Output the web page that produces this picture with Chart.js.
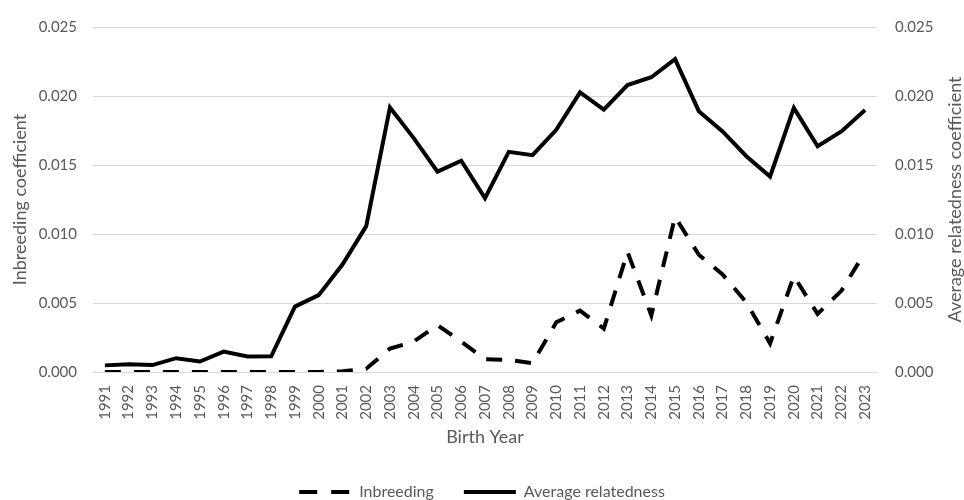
<!DOCTYPE html>
<html><head><meta charset="utf-8">
<script src="https://cdn.jsdelivr.net/npm/chart.js@4/dist/chart.umd.min.js"></script>
<style>html,body{margin:0;padding:0;background:#fff}</style>
</head><body>
<canvas id="c" width="964" height="500" style="display:block;width:964px;height:500px"></canvas>
<script>
const years = ['1991','1992','1993','1994','1995','1996','1997','1998','1999','2000','2001','2002','2003','2004','2005','2006','2007','2008','2009','2010','2011','2012','2013','2014','2015','2016','2017','2018','2019','2020','2021','2022','2023'];
const inbreeding = [0.0000,0.0000,0.0000,0.0000,0.0000,0.0000,0.0000,0.0000,0.0000,0.0000,0.00005,0.00024,0.0017,0.0022,0.0034,0.0022,0.00093,0.00088,0.00064,0.0036,0.00445,0.00314,0.0087,0.0041,0.01124,0.0085,0.00707,0.00505,0.00207,0.00695,0.00421,0.00588,0.0087];
const relatedness = [0.00048,0.00057,0.0005,0.001,0.00076,0.00148,0.00112,0.00114,0.00474,0.00557,0.00779,0.01057,0.01917,0.01695,0.01452,0.01531,0.0126,0.01595,0.01571,0.01755,0.02026,0.01902,0.02079,0.02136,0.02267,0.0189,0.01743,0.01564,0.01417,0.01914,0.01636,0.01743,0.01898];
const yTicks = [0, 0.005, 0.010, 0.015, 0.020, 0.025];
const seriesNames = ['Inbreeding', 'Average relatedness'];
const axisTitles = {x: 'Birth Year', y: 'Inbreeding coefficient', y2: 'Average relatedness coefficient'};

const FONT = 'Lato, "Liberation Sans", sans-serif';
const TXT = '#595959';
const GRID = '#d9d9d9';

const rightTitle = {
  id: 'rightTitle',
  afterDraw(chart) {
    const ctx = chart.ctx;
    const area = chart.chartArea;
    ctx.save();
    ctx.fillStyle = TXT;
    ctx.font = '18px ' + FONT;
    ctx.textAlign = 'center';
    ctx.textBaseline = 'middle';
    ctx.translate(955, (area.top + area.bottom) / 2);
    ctx.rotate(-Math.PI / 2);
    ctx.fillText(axisTitles.y2, 0, 0);
    ctx.restore();
  }
};

new Chart(document.getElementById('c'), {
  type: 'line',
  data: {
    labels: years,
    datasets: [
      {label: seriesNames[0], data: inbreeding, yAxisID: 'y', borderColor: '#000', backgroundColor: '#000',
       borderWidth: 4, borderDash: [16, 13], borderCapStyle: 'butt', pointRadius: 0, tension: 0, fill: false, pointStyle: 'line'},
      {label: seriesNames[1], data: relatedness, yAxisID: 'y2', borderColor: '#000', backgroundColor: '#000',
       borderWidth: 4, pointRadius: 0, tension: 0, fill: false, pointStyle: 'line'}
    ]
  },
  options: {
    responsive: false,
    animation: false,
    devicePixelRatio: 1,
    layout: {padding: {top: 22, left: 0, right: 0, bottom: -10}},
    plugins: {
      tooltip: {enabled: false},
      legend: {
        position: 'bottom',
        labels: {
          usePointStyle: true, pointStyleWidth: 52, boxWidth: 52, padding: 30, color: TXT,
          font: {family: FONT, size: 16},
          generateLabels(chart) {
            const items = Chart.defaults.plugins.legend.labels.generateLabels(chart);
            items.forEach((it, i) => {
              it.lineWidth = 4;
              it.strokeStyle = '#000';
              it.lineDash = i === 0 ? [18, 14] : [];
              it.lineCap = 'butt';
            });
            return items;
          }
        }
      }
    },
    scales: {
      x: {
        type: 'category',
        offset: true,
        grid: {display: false, drawTicks: false},
        border: {display: true, color: GRID, width: 1},
        ticks: {color: TXT, font: {family: FONT, size: 15}, minRotation: 90, maxRotation: 90, padding: 13, autoSkip: false},
        title: {display: true, text: axisTitles.x, color: TXT, font: {family: FONT, size: 18}, padding: {top: 0, bottom: 6}},
        afterFit(s) { s.height = 82; }
      },
      y: {
        position: 'left',
        min: 0, max: 0.025,
        afterBuildTicks(s) { s.ticks = yTicks.map(v => ({value: v})); },
        grid: {color: GRID, drawTicks: false, lineWidth: 1},
        border: {display: false},
        ticks: {color: TXT, font: {family: FONT, size: 15}, padding: 16, callback: v => Number(v).toFixed(3)},
        title: {display: true, text: axisTitles.y, color: TXT, font: {family: FONT, size: 18}, padding: {top: 9, bottom: 0}},
        afterFit(s) { s.width = 93; }
      },
      y2: {
        position: 'right',
        min: 0, max: 0.025,
        afterBuildTicks(s) { s.ticks = yTicks.map(v => ({value: v})); },
        grid: {display: false, drawTicks: false},
        border: {display: false},
        ticks: {color: TXT, font: {family: FONT, size: 15}, padding: 18, callback: v => Number(v).toFixed(3)},
        afterFit(s) { s.width = 87; }
      }
    }
  },
  plugins: [rightTitle]
});
</script>
</body></html>
